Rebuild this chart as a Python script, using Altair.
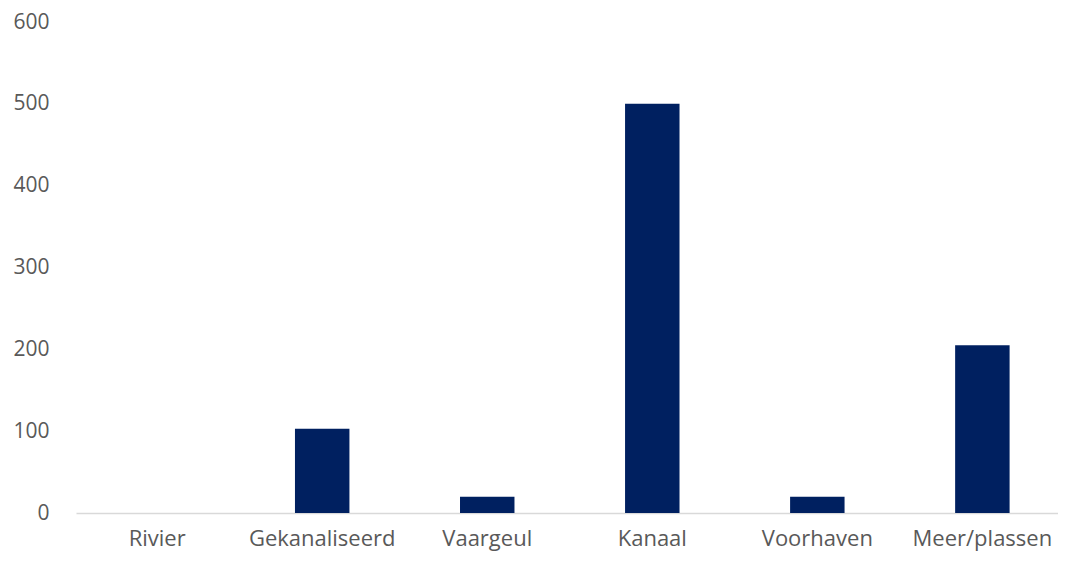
import altair as alt
import pandas as pd

categories = ["Rivier", "Gekanaliseerd", "Vaargeul", "Kanaal", "Voorhaven", "Meer/plassen"]
values = [0, 103, 20, 500, 20, 205]
y_ticks = [0, 100, 200, 300, 400, 500, 600]

df = pd.DataFrame({"categorie": categories, "waarde": values})

FONT = "Open Sans"
GREY = "#595959"

chart = (
    alt.Chart(df)
    .mark_bar(color="#002060")
    .encode(
        x=alt.X(
            "categorie:N",
            sort=categories,
            title=None,
            scale=alt.Scale(paddingInner=0.67, paddingOuter=0.31, align=0.527),
            axis=alt.Axis(
                labelAngle=0,
                labelFont=FONT,
                labelFontSize=22,
                labelColor=GREY,
                labelPadding=15,
                ticks=False,
                domainColor="#d9d9d9",
                domainWidth=1.5,
                grid=False,
            ),
        ),
        y=alt.Y(
            "waarde:Q",
            title=None,
            scale=alt.Scale(domain=[0, 600], nice=False),
            axis=alt.Axis(
                values=y_ticks,
                labelFont=FONT,
                labelFontSize=21,
                labelColor=GREY,
                labelPadding=27,
                ticks=False,
                domain=False,
                grid=False,
            ),
        ),
    )
    .properties(
        width=982,
        height=491,
        background="white",
        autosize=alt.AutoSizeParams(type="none"),
        padding={"left": 68, "top": 14, "right": 0, "bottom": 39},
    )
    .configure_view(strokeWidth=0)
)

chart.save("out.html", embed_options={"renderer": "svg", "actions": False})
